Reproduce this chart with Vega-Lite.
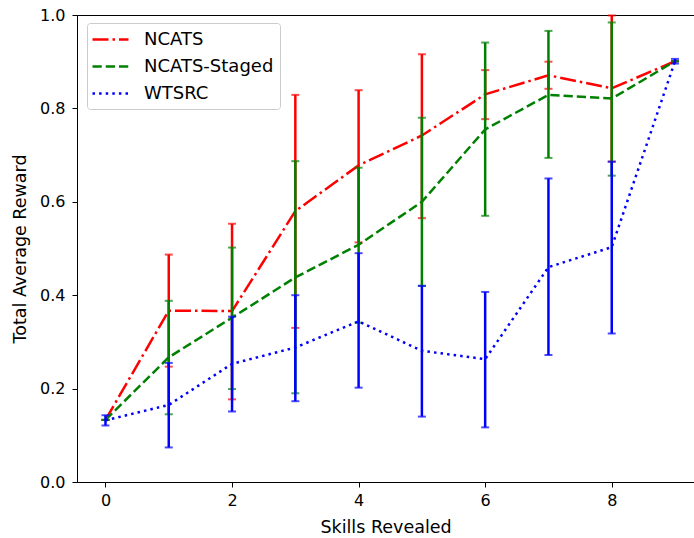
{
  "$schema": "https://vega.github.io/schema/vega-lite/v6.json",
  "width": 617,
  "height": 467,
  "autosize": {"type": "none"},
  "padding": {"left": 77, "top": 15, "right": 0, "bottom": 56},
  "data": {
    "values": [
      {"series": "NCATS", "x": 0, "y": 0.133, "lo": 0.133, "hi": 0.133},
      {"series": "NCATS", "x": 1, "y": 0.367, "lo": 0.247, "hi": 0.487},
      {"series": "NCATS", "x": 2, "y": 0.366, "lo": 0.177, "hi": 0.553},
      {"series": "NCATS", "x": 3, "y": 0.580, "lo": 0.330, "hi": 0.829},
      {"series": "NCATS", "x": 4, "y": 0.678, "lo": 0.513, "hi": 0.839},
      {"series": "NCATS", "x": 5, "y": 0.742, "lo": 0.565, "hi": 0.916},
      {"series": "NCATS", "x": 6, "y": 0.830, "lo": 0.777, "hi": 0.882},
      {"series": "NCATS", "x": 7, "y": 0.871, "lo": 0.842, "hi": 0.900},
      {"series": "NCATS", "x": 8, "y": 0.843, "lo": 0.686, "hi": 0.999},
      {"series": "NCATS", "x": 9, "y": 0.901, "lo": 0.901, "hi": 0.901},
      {"series": "NCATS-Staged", "x": 0, "y": 0.133, "lo": 0.133, "hi": 0.133},
      {"series": "NCATS-Staged", "x": 1, "y": 0.267, "lo": 0.145, "hi": 0.388},
      {"series": "NCATS-Staged", "x": 2, "y": 0.352, "lo": 0.199, "hi": 0.502},
      {"series": "NCATS-Staged", "x": 3, "y": 0.438, "lo": 0.190, "hi": 0.687},
      {"series": "NCATS-Staged", "x": 4, "y": 0.508, "lo": 0.341, "hi": 0.673},
      {"series": "NCATS-Staged", "x": 5, "y": 0.600, "lo": 0.420, "hi": 0.780},
      {"series": "NCATS-Staged", "x": 6, "y": 0.755, "lo": 0.570, "hi": 0.941},
      {"series": "NCATS-Staged", "x": 7, "y": 0.829, "lo": 0.694, "hi": 0.966},
      {"series": "NCATS-Staged", "x": 8, "y": 0.821, "lo": 0.656, "hi": 0.984},
      {"series": "NCATS-Staged", "x": 9, "y": 0.901, "lo": 0.901, "hi": 0.901},
      {"series": "WTSRC", "x": 0, "y": 0.132, "lo": 0.121, "hi": 0.143},
      {"series": "WTSRC", "x": 1, "y": 0.165, "lo": 0.074, "hi": 0.255},
      {"series": "WTSRC", "x": 2, "y": 0.253, "lo": 0.151, "hi": 0.354},
      {"series": "WTSRC", "x": 3, "y": 0.288, "lo": 0.173, "hi": 0.400},
      {"series": "WTSRC", "x": 4, "y": 0.344, "lo": 0.202, "hi": 0.490},
      {"series": "WTSRC", "x": 5, "y": 0.281, "lo": 0.140, "hi": 0.420},
      {"series": "WTSRC", "x": 6, "y": 0.263, "lo": 0.117, "hi": 0.407},
      {"series": "WTSRC", "x": 7, "y": 0.460, "lo": 0.272, "hi": 0.650},
      {"series": "WTSRC", "x": 8, "y": 0.503, "lo": 0.318, "hi": 0.686},
      {"series": "WTSRC", "x": 9, "y": 0.901, "lo": 0.896, "hi": 0.906}
    ]
  },
  "encoding": {
    "x": {
      "field": "x",
      "type": "quantitative",
      "scale": {"domain": [-0.45, 9.3], "nice": false, "zero": false},
      "axis": {"values": [0, 2, 4, 6, 8], "title": "Skills Revealed", "labelPadding": 5, "titlePadding": 10}
    }
  },
  "layer": [
    {
      "transform": [{"filter": "datum.series === 'NCATS'"}],
      "layer": [
        {
          "mark": {"type": "line", "strokeWidth": 2.5, "strokeCap": "butt"},
          "encoding": {
            "y": {"field": "y", "type": "quantitative", "scale": {"domain": [0, 1], "nice": false}, "axis": {"values": [0, 0.2, 0.4, 0.6, 0.8, 1.0], "format": ".1f", "title": "Total Average Reward", "labelPadding": 7, "titlePadding": 10}},
            "color": {"field": "series", "type": "nominal", "scale": {"domain": ["NCATS", "NCATS-Staged", "WTSRC"], "range": ["#ff0000", "#008000", "#0000ff"]}, "legend": {"title": null}},
            "strokeDash": {"field": "series", "type": "nominal", "scale": {"domain": ["NCATS", "NCATS-Staged", "WTSRC"], "range": [[16, 4, 2.5, 4], [9.25, 4], [2.5, 4.1]]}, "legend": {"title": null}}
          }
        },
        {
          "mark": {"type": "rule", "strokeWidth": 2.5},
          "encoding": {"y": {"field": "lo", "type": "quantitative"}, "y2": {"field": "hi"}, "color": {"value": "#ff0000"}}
        },
        {
          "mark": {"type": "tick", "orient": "horizontal", "size": 8, "thickness": 2},
          "encoding": {"y": {"field": "lo", "type": "quantitative"}, "color": {"value": "#ff0000"}}
        },
        {
          "mark": {"type": "tick", "orient": "horizontal", "size": 8, "thickness": 2},
          "encoding": {"y": {"field": "hi", "type": "quantitative"}, "color": {"value": "#ff0000"}}
        }
      ]
    },
    {
      "transform": [{"filter": "datum.series === 'NCATS-Staged'"}],
      "layer": [
        {
          "mark": {"type": "line", "strokeWidth": 2.5, "strokeCap": "butt"},
          "encoding": {
            "y": {"field": "y", "type": "quantitative"},
            "color": {"field": "series", "type": "nominal"},
            "strokeDash": {"field": "series", "type": "nominal"}
          }
        },
        {
          "mark": {"type": "rule", "strokeWidth": 2.5},
          "encoding": {"y": {"field": "lo", "type": "quantitative"}, "y2": {"field": "hi"}, "color": {"value": "#008000"}}
        },
        {
          "mark": {"type": "tick", "orient": "horizontal", "size": 8, "thickness": 2},
          "encoding": {"y": {"field": "lo", "type": "quantitative"}, "color": {"value": "#008000"}}
        },
        {
          "mark": {"type": "tick", "orient": "horizontal", "size": 8, "thickness": 2},
          "encoding": {"y": {"field": "hi", "type": "quantitative"}, "color": {"value": "#008000"}}
        }
      ]
    },
    {
      "transform": [{"filter": "datum.series === 'WTSRC'"}],
      "layer": [
        {
          "mark": {"type": "line", "strokeWidth": 2.5, "strokeCap": "butt"},
          "encoding": {
            "y": {"field": "y", "type": "quantitative"},
            "color": {"field": "series", "type": "nominal"},
            "strokeDash": {"field": "series", "type": "nominal"}
          }
        },
        {
          "mark": {"type": "rule", "strokeWidth": 2.5},
          "encoding": {"y": {"field": "lo", "type": "quantitative"}, "y2": {"field": "hi"}, "color": {"value": "#0000ff"}}
        },
        {
          "mark": {"type": "tick", "orient": "horizontal", "size": 8, "thickness": 2},
          "encoding": {"y": {"field": "lo", "type": "quantitative"}, "color": {"value": "#0000ff"}}
        },
        {
          "mark": {"type": "tick", "orient": "horizontal", "size": 8, "thickness": 2},
          "encoding": {"y": {"field": "hi", "type": "quantitative"}, "color": {"value": "#0000ff"}}
        }
      ]
    }
  ],
  "resolve": {"scale": {"color": "shared", "strokeDash": "shared"}},
  "config": {
    "font": "DejaVu Sans",
    "view": {"stroke": "black", "strokeWidth": 1},
    "axis": {
      "grid": false,
      "domainColor": "black",
      "tickColor": "black",
      "tickSize": 5,
      "labelFont": "DejaVu Sans",
      "labelFontSize": 16,
      "labelColor": "black",
      "titleFont": "DejaVu Sans",
      "titleFontSize": 17.5,
      "titleFontWeight": "normal",
      "titleColor": "black"
    },
    "legend": {
      "orient": "none",
      "legendX": 10,
      "legendY": 8,
      "padding": 6,
      "fillColor": "white",
      "strokeColor": "#cccccc",
      "cornerRadius": 3,
      "symbolType": "M-2,0H2",
      "symbolSize": 324,
      "symbolOffset": 7,
      "symbolStrokeWidth": 2.5,
      "labelFont": "DejaVu Sans",
      "labelFontSize": 18,
      "labelColor": "black",
      "labelOffset": 23,
      "rowPadding": 7,
      "columnPadding": 10
    }
  }
}
